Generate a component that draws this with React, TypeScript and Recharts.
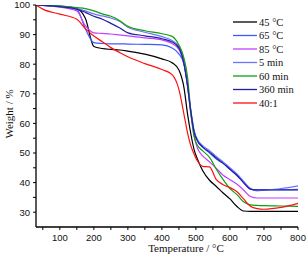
import React from 'react';
import { LineChart, Line, XAxis, YAxis } from 'recharts';

const temps = [30, 50, 100, 150, 175, 200, 225, 250, 275, 300, 350, 400, 430, 450, 465, 475, 485, 495, 505, 520, 540, 560, 580, 600, 620, 640, 660, 680, 700, 750, 800];

const s45C = [100, 99.9, 99.6, 98.8, 95.5, 86, 85.3, 85, 84.8, 84.4, 83.4, 81.8, 80.5, 78, 72, 63.5, 56.5, 51, 47.8, 44, 40.8, 38.7, 36.5, 34.5, 32, 30.4, 30.3, 30.3, 30.3, 30.3, 30.3];
const s65C = [100, 99.9, 99.4, 98.5, 92, 87.3, 87, 86.9, 86.9, 86.8, 86.7, 86.5, 85.5, 83.5, 80, 73, 64, 57, 54, 52, 50, 48, 46.5, 44.5, 42.5, 40, 37.8, 37.6, 37.6, 37.6, 37.7];
const s85C = [100, 99.9, 99.3, 98, 93, 90.6, 90.4, 90.2, 89.9, 89.6, 88.9, 88.2, 87, 85, 80, 73, 63, 55.5, 51.5, 49, 47, 44.8, 42.5, 41, 39.5, 37.5, 35.3, 34.8, 34.8, 34.8, 34.8];
const s5min = [100, 99.9, 99.5, 98.8, 98, 97, 96.3, 95.6, 94.5, 92.5, 90.8, 89.3, 88, 86, 80.5, 73.5, 64.5, 57.5, 54.5, 52.5, 50.8, 48.8, 47, 45, 43, 40.5, 38, 37.2, 37.4, 38, 38.9];
const s60min = [100, 99.9, 99.6, 99.1, 98.8, 98, 97, 96.2, 94.8, 92.8, 91.3, 90.3, 89.4, 86.5, 82, 76, 64, 55.5, 52.5, 50.7, 48.5, 44.5, 41, 38, 36, 33.5, 32.5, 32.3, 32.2, 32.1, 32];
const s360min = [100, 99.9, 99.4, 98.6, 97.5, 96.2, 95.2, 93.8, 92.3, 90.6, 89.6, 88.6, 87.5, 85.5, 80, 73, 64, 57, 54, 52, 50.3, 48.3, 46.5, 44.5, 42.5, 40, 37.8, 37.5, 37.5, 37.5, 37.5];
const s40to1 = [100, 98.6, 96.9, 95.2, 92, 89.5, 87.6, 85.6, 84, 82.5, 80.2, 78.2, 76.5, 71.5, 63, 57, 52.5, 49.5, 47.2, 45.5, 45.3, 41, 39.3, 38.3, 37, 34.5, 32, 31.2, 31, 31.6, 33];

const seriesNames = ['45 °C', '65 °C', '85 °C', '5 min', '60 min', '360 min', '40:1'];
const seriesValues = [s45C, s65C, s85C, s5min, s60min, s360min, s40to1];
const seriesColors = ['#000000', '#3a5cff', '#c040ff', '#7070ff', '#10a010', '#2020a0', '#ff1010'];

const xTicks = [50, 100, 150, 200, 250, 300, 350, 400, 450, 500, 550, 600, 650, 700, 750, 800];
const yTicks = [30, 35, 40, 45, 50, 55, 60, 65, 70, 75, 80, 85, 90, 95, 100];

const data = temps.map((t, i) => {
  const row: Record<string, number> = { t };
  seriesNames.forEach((n, k) => {
    row[n] = seriesValues[k][i];
  });
  return row;
});

const tickFont = { fontFamily: 'Liberation Sans, Arial, sans-serif', fontSize: 9.5, fill: '#111' };
const serif = 'Liberation Serif, Times New Roman, serif';

export default function App() {
  return (
    <div style={{ position: 'absolute', left: 0, top: 0, width: 308, height: 259, background: '#fff' }}>
      <LineChart width={308} height={259} data={data} margin={{ top: 5, right: 10, left: 0, bottom: 0 }}>
        <XAxis
          dataKey="t"
          type="number"
          domain={[30, 800]}
          ticks={xTicks}
          interval={0}
          tickFormatter={(v: number) => (v % 100 === 0 ? String(v) : '')}
          tick={tickFont}
          tickSize={3}
          tickMargin={4}
          height={32}
          stroke="#000"
          axisLine={{ stroke: '#000', strokeWidth: 1.3 }}
          tickLine={{ stroke: '#000' }}
          label={{
            content: () => (
              <text x={186} y={252} textAnchor="middle" fontFamily={serif} fontSize={11} fill="#111">
                Temperature / °C
              </text>
            ),
          }}
        />
        <XAxis xAxisId="top" orientation="top" dataKey="t" type="number" domain={[30, 800]} height={0} tick={false} tickLine={false} axisLine={{ stroke: '#000', strokeWidth: 1.3 }} />
        <YAxis
          type="number"
          domain={[25, 100]}
          ticks={yTicks}
          interval={0}
          tickFormatter={(v: number) => (v % 10 === 0 ? String(v) : '')}
          tick={tickFont}
          tickSize={3}
          tickMargin={3}
          width={36}
          allowDataOverflow
          axisLine={{ stroke: '#000', strokeWidth: 1.3 }}
          tickLine={{ stroke: '#000' }}
          label={{
            content: () => (
              <text x={13} y={114} transform="rotate(-90 13 114)" textAnchor="middle" fontFamily={serif} fontSize={11} fill="#111">
                Weight / %
              </text>
            ),
          }}
        />
        <YAxis yAxisId="right" orientation="right" domain={[25, 100]} width={0} tick={false} tickLine={false} axisLine={{ stroke: '#000', strokeWidth: 1.3 }} />
        {seriesNames.map((n, k) => (
          <Line
            key={n}
            dataKey={n}
            type="monotone"
            stroke={seriesColors[k]}
            strokeWidth={1.2}
            dot={false}
            isAnimationActive={false}
          />
        ))}
      </LineChart>
      <svg style={{ position: 'absolute', left: 0, top: 0 }} width={308} height={259} pointerEvents="none">
        {seriesNames.map((n, k) => {
          const y = 22 + k * 13.5;
          return (
            <g key={n}>
              <line x1={233} x2={257} y1={y} y2={y} stroke={seriesColors[k]} strokeWidth={1.3} />
              <text x={259} y={y + 3.5} fontFamily={serif} fontSize={10.5} fill="#111">
                {n}
              </text>
            </g>
          );
        })}
      </svg>
    </div>
  );
}
